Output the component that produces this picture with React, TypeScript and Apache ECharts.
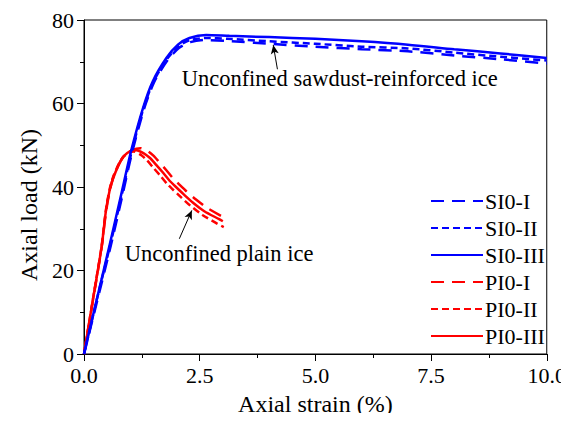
import React, { useEffect, useRef } from "react";
import * as echarts from "echarts";

// Axial strain (%) vs axial load (kN) for each specimen, as [strain, load] pairs
const si0I: [number, number][] = [
  [0, 0], [0.28, 12.5], [0.58, 26], [0.82, 37.5], [1.04, 48.3], [1.3, 58.8], [1.51, 65], [1.8, 70.3],
  [2.05, 73.3], [2.3, 74.7], [2.6, 75.2], [3.1, 75.0], [4.0, 74.3], [5.0, 73.6], [6.0, 73.0],
  [7.0, 72.5], [8.0, 71.5], [9.0, 70.6], [10.0, 69.6],
];
const si0II: [number, number][] = [
  [0, 0], [0.27, 12.7], [0.57, 26.3], [0.81, 37.8], [1.03, 48.5], [1.29, 59], [1.5, 65.2], [1.79, 70.6],
  [2.04, 73.7], [2.29, 75.2], [2.65, 75.7], [3.1, 75.5], [4.0, 74.9], [5.0, 74.3], [6.0, 73.6],
  [7.0, 73.2], [8.0, 72.2], [9.0, 71.2], [10.0, 70.3],
];
const si0III: [number, number][] = [
  [0, 0], [0.27, 12.8], [0.56, 26.4], [0.8, 38], [1.02, 48.7], [1.28, 59.1], [1.49, 65.4], [1.78, 70.9],
  [2.03, 74.1], [2.28, 75.7], [2.64, 76.4], [3.14, 76.2], [4.0, 75.9], [5.0, 75.5], [6.0, 74.9],
  [7.0, 74.1], [8.0, 73.0], [9.0, 72.0], [10.0, 70.9],
];
const pi0I: [number, number][] = [
  [0, 0], [0.2, 13.3], [0.38, 25.4], [0.47, 33.6], [0.55, 38.8], [0.63, 42.2], [0.75, 45.4], [0.88, 47.6],
  [1.05, 48.9], [1.22, 49.3], [1.38, 48.6], [1.5, 47.5], [1.63, 45.9], [1.78, 44], [1.93, 42],
  [2.04, 40.8], [2.22, 38.9], [2.42, 37], [2.66, 35], [2.96, 33.1],
];
const pi0II: [number, number][] = [
  [0, 0], [0.2, 13.6], [0.38, 25.8], [0.47, 34.2], [0.55, 39.3], [0.63, 42.4], [0.75, 45.5], [0.85, 47.2],
  [0.98, 48.3], [1.08, 48.5], [1.24, 47.6], [1.36, 46.4], [1.5, 44.6], [1.65, 42.7], [1.8, 40.7],
  [1.92, 39.4], [2.1, 37.5], [2.3, 35.5], [2.56, 33.3], [2.85, 31.4], [3.02, 30.4],
];
const pi0III: [number, number][] = [
  [0, 0], [0.2, 13.5], [0.38, 25.6], [0.47, 34], [0.55, 39], [0.63, 42.1], [0.75, 45.3], [0.85, 47.3],
  [1.0, 48.6], [1.13, 48.8], [1.3, 48], [1.42, 47], [1.56, 45.3], [1.71, 43.4], [1.85, 41.5],
  [1.96, 40.3], [2.15, 38.3], [2.35, 36.3], [2.6, 34.2], [2.92, 32.3], [3.0, 31.8],
];

const seriesNames = ["SI0-I", "SI0-II", "SI0-III", "PI0-I", "PI0-II", "PI0-III"];
const seriesData = [si0I, si0II, si0III, pi0I, pi0II, pi0III];
const seriesColors = ["#0000ff", "#0000ff", "#0000ff", "#ff0000", "#ff0000", "#ff0000"];
const seriesDash: (number[] | "solid")[] = [[13, 8], [7, 4], "solid", [13, 8], [7, 4], "solid"];

const xTicks = { min: 0, max: 10, interval: 2.5 };
const yTicks = { min: 0, max: 80, interval: 20 };

// Annotation texts with their anchors (left-middle) and arrows [tail, head], in data coordinates
const notes = [
  { text: "Unconfined sawdust-reinforced ice", at: [2.11, 66.0], tail: [4.18, 68.2], head: [4.09, 74.0] },
  { text: "Unconfined plain ice", at: [0.88, 24.1], tail: [2.06, 27.6], head: [2.33, 34.4] },
];

const FONT = "Times New Roman, Liberation Serif, serif";

export default function App() {
  const ref = useRef<HTMLDivElement>(null);

  useEffect(() => {
    if (!ref.current) return;
    const chart = echarts.init(ref.current, undefined, { renderer: "svg" });

    const series: any[] = seriesNames.map((name, i) => ({
      name,
      type: "line",
      data: seriesData[i],
      symbol: "none",
      showSymbol: false,
      smooth: 0.25,
      z: i < 3 ? 3 : 2,
      lineStyle: { color: seriesColors[i], width: 2.5, type: seriesDash[i] },
      itemStyle: { color: seriesColors[i] },
    }));

    // arrows for the annotations
    series.push({
      type: "line",
      data: [],
      silent: true,
      z: 5,
      markLine: {
        silent: true,
        animation: false,
        symbol: ["none", "arrow"],
        symbolSize: [6, 9],
        label: { show: false },
        lineStyle: { color: "#000", width: 1, type: "solid" },
        data: notes.map((n) => [
          { coord: n.tail, symbol: "none" },
          { coord: n.head, symbol: "arrow" },
        ]),
      },
    });

    chart.setOption({
      animation: false,
      backgroundColor: "#fff",
      grid: {
        left: 84,
        right: 20,
        top: 20,
        bottom: 63,
        show: true,
        borderColor: "#000",
        borderWidth: 1,
        backgroundColor: "transparent",
      },
      legend: {
        orient: "vertical",
        left: 425,
        top: 185,
        itemWidth: 52,
        itemHeight: 14,
        itemGap: 5,
        itemStyle: { opacity: 0 },
        data: seriesNames,
        textStyle: { fontFamily: FONT, fontSize: 22, color: "#000", lineHeight: 22, padding: [0, 0, 0, -3] },
      },
      xAxis: {
        type: "value",
        ...xTicks,
        name: "Axial strain (%)",
        nameLocation: "middle",
        nameGap: 38,
        nameTextStyle: { fontFamily: FONT, fontSize: 24, color: "#000" },
        axisLine: { show: true, lineStyle: { color: "#000", width: 1 } },
        axisTick: { show: true, inside: false, length: 7, lineStyle: { color: "#000" } },
        minorTick: { show: true, splitNumber: 2, length: 4, lineStyle: { color: "#000" } },
        splitLine: { show: false },
        axisLabel: {
          fontFamily: FONT,
          fontSize: 22,
          color: "#000",
          margin: 10,
          formatter: (v: number) => v.toFixed(1),
        },
      },
      yAxis: {
        type: "value",
        ...yTicks,
        axisLine: { show: true, lineStyle: { color: "#000", width: 1 } },
        axisTick: { show: true, inside: false, length: 7, lineStyle: { color: "#000" } },
        minorTick: { show: true, splitNumber: 2, length: 4, lineStyle: { color: "#000" } },
        splitLine: { show: false },
        axisLabel: { fontFamily: FONT, fontSize: 22, color: "#000", margin: 10 },
      },
      series,
    });

    const graphics: any[] = notes.map((n) => {
      const p = chart.convertToPixel({ gridIndex: 0 }, n.at) as number[];
      return {
        type: "text",
        x: p[0],
        y: p[1],
        style: {
          text: n.text,
          fontFamily: FONT,
          fontSize: 22.5,
          fill: "#000",
          align: "left",
          verticalAlign: "middle",
        },
      };
    });
    graphics.push({
      type: "text",
      x: 29,
      y: 205,
      rotation: Math.PI / 2,
      style: {
        text: "Axial load (kN)",
        fontFamily: FONT,
        fontSize: 24,
        fill: "#000",
        align: "center",
        verticalAlign: "middle",
      },
    });
    chart.setOption({ graphic: graphics });

    return () => chart.dispose();
  }, []);

  return <div ref={ref} style={{ width: 569, height: 421, margin: -8 }} />;
}
